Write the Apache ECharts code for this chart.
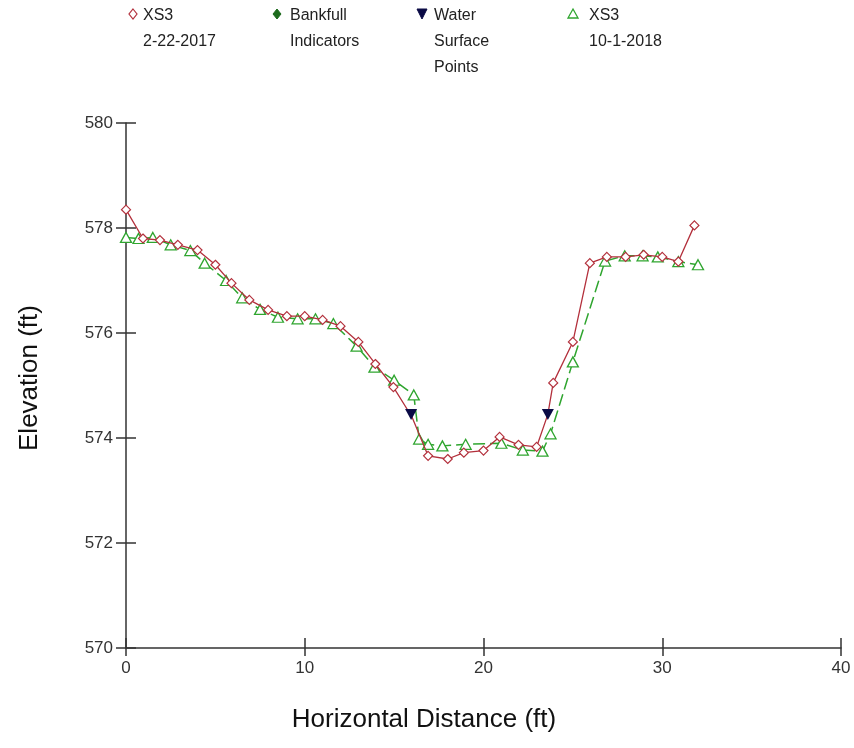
<!DOCTYPE html>
<html>
<head>
<meta charset="utf-8">
<title>XS3 cross section</title>
<script src="https://cdn.jsdelivr.net/npm/echarts@6/dist/echarts.min.js"></script>
<style>
  html, body { margin: 0; padding: 0; background: #fff; }
  #chart { width: 854px; height: 748px; }
</style>
</head>
<body>
<div id="chart"></div>
<script>
// XS3 2-22-2017 (station, elevation) ; the two water points are bends without a symbol
var xs2017X = [0, 0.95, 1.9, 2.9, 4.0, 5.0, 5.9, 6.9, 7.95, 9.0, 10.0, 11.0, 12.0, 13.0, 13.95, 14.96, 16.0, 16.9, 18.0, 18.9, 20.0, 20.9, 21.96, 22.97, 23.6, 23.9, 25.0, 25.95, 26.9, 27.95, 28.96, 30.0, 30.9, 31.8];
var xs2017Y = [578.35, 577.8, 577.77, 577.68, 577.58, 577.3, 576.95, 576.63, 576.44, 576.32, 576.32, 576.25, 576.13, 575.83, 575.41, 574.97, 574.4, 573.66, 573.6, 573.72, 573.76, 574.02, 573.87, 573.83, 574.45, 575.05, 575.83, 577.33, 577.45, 577.45, 577.49, 577.45, 577.36, 578.05];
var xs2017Hidden = [16.0, 23.6];

// XS3 10-1-2018
var xs2018X = [0, 0.7, 1.5, 2.5, 3.6, 4.4, 5.6, 6.5, 7.5, 8.5, 9.6, 10.6, 11.6, 12.9, 13.9, 15.0, 16.1, 16.4, 16.9, 17.7, 19.0, 21.0, 22.2, 23.3, 23.75, 25.0, 26.8, 27.9, 28.9, 29.75, 30.9, 32.0];
var xs2018Y = [577.82, 577.8, 577.82, 577.68, 577.57, 577.33, 577.0, 576.67, 576.45, 576.3, 576.27, 576.27, 576.18, 575.75, 575.35, 575.1, 574.82, 573.98, 573.88, 573.85, 573.88, 573.9, 573.77, 573.75, 574.08, 575.45, 577.37, 577.47, 577.47, 577.45, 577.36, 577.3];

// water surface points
var wsX = [15.95, 23.6];
var wsY = [574.45, 574.45];

// bankfull indicators (none plotted)
var bankX = [];
var bankY = [];

var xTicks = [0, 10, 20, 30, 40];
var yTicks = [570, 572, 574, 576, 578, 580];

var RED = '#b3303c';
var GREEN = '#2fa52f';
var NAVY = '#0a0a45';
var DKGREEN = '#1d6b1d';
var DIAMOND = 'path://M0,-1L1,0L0,1L-1,0Z';

function pairs(xs, ys) {
  var out = [];
  for (var i = 0; i < xs.length; i++) out.push([xs[i], ys[i]]);
  return out;
}

var redData = pairs(xs2017X, xs2017Y).map(function (p) {
  if (xs2017Hidden.indexOf(p[0]) >= 0) return { value: p, symbol: 'none' };
  return p;
});

var chart = echarts.init(document.getElementById('chart'));
var font = 'Liberation Sans, Arial, sans-serif';

var axisCommonX = {
  type: 'value',
  min: xTicks[0], max: xTicks[xTicks.length - 1], interval: 10,
  splitLine: { show: false }
};
var axisCommonY = {
  type: 'value',
  min: yTicks[0], max: yTicks[yTicks.length - 1], interval: 2,
  splitLine: { show: false }
};

var option = {
  backgroundColor: '#fff',
  animation: false,
  grid: { left: 126, right: 13, top: 123, bottom: 100 },
  xAxis: [
    Object.assign({}, axisCommonX, {
      position: 'bottom',
      axisLine: { show: true, lineStyle: { color: '#333', width: 1.5 } },
      axisTick: { show: true, inside: false, length: 8, lineStyle: { color: '#333', width: 1.5 } },
      axisLabel: { margin: 12, fontSize: 17, color: '#333', fontFamily: font }
    }),
    Object.assign({}, axisCommonX, {
      position: 'bottom',
      axisLine: { show: false },
      axisTick: { show: true, inside: true, length: 10, lineStyle: { color: '#333', width: 1.5 } },
      axisLabel: { show: false }
    })
  ],
  yAxis: [
    Object.assign({}, axisCommonY, {
      position: 'left',
      axisLine: { show: true, lineStyle: { color: '#333', width: 1.5 } },
      axisTick: { show: true, inside: false, length: 10, lineStyle: { color: '#333', width: 1.5 } },
      axisLabel: { margin: 13, fontSize: 17, color: '#333', fontFamily: font }
    }),
    Object.assign({}, axisCommonY, {
      position: 'left',
      axisLine: { show: false },
      axisTick: { show: true, inside: true, length: 10, lineStyle: { color: '#333', width: 1.5 } },
      axisLabel: { show: false }
    })
  ],
  series: [
    {
      name: 'XS3 10-1-2018',
      type: 'line',
      data: pairs(xs2018X, xs2018Y),
      symbol: 'triangle',
      symbolSize: [11, 10],
      showAllSymbol: true,
      lineStyle: { color: GREEN, width: 1.5, type: [12, 5] },
      itemStyle: { color: '#fff', borderColor: GREEN, borderWidth: 1.3 },
      z: 2
    },
    {
      name: 'XS3 2-22-2017',
      type: 'line',
      data: redData,
      symbol: DIAMOND,
      symbolSize: [9, 9],
      showAllSymbol: true,
      lineStyle: { color: RED, width: 1.3 },
      itemStyle: { color: '#fff', borderColor: RED, borderWidth: 1.2 },
      z: 3
    },
    {
      name: 'Bankfull Indicators',
      type: 'scatter',
      data: pairs(bankX, bankY),
      symbol: DIAMOND,
      symbolSize: 9,
      itemStyle: { color: DKGREEN, opacity: 1 },
      z: 4
    },
    {
      name: 'Water Surface Points',
      type: 'scatter',
      data: pairs(wsX, wsY),
      symbol: 'triangle',
      symbolRotate: 180,
      symbolSize: [12, 11],
      itemStyle: { color: NAVY, opacity: 1 },
      z: 5
    }
  ],
  graphic: [
    // legend
    { type: 'polygon', shape: { points: [[133, 9], [137, 14], [133, 19], [129, 14]] }, style: { fill: '#fff', stroke: RED, lineWidth: 1.2 } },
    { type: 'text', left: 143, top: 3, style: { text: 'XS3\n2-22-2017', font: '16px ' + font, lineHeight: 26, fill: '#222' } },
    { type: 'polygon', shape: { points: [[277, 9], [281, 14], [277, 19], [273, 14]] }, style: { fill: DKGREEN, stroke: DKGREEN, lineWidth: 1 } },
    { type: 'text', left: 290, top: 3, style: { text: 'Bankfull\nIndicators', font: '16px ' + font, lineHeight: 26, fill: '#222' } },
    { type: 'polygon', shape: { points: [[417, 9], [427, 9], [422, 19]] }, style: { fill: NAVY, stroke: NAVY, lineWidth: 1 } },
    { type: 'text', left: 434, top: 3, style: { text: 'Water\nSurface\nPoints', font: '16px ' + font, lineHeight: 26, fill: '#222' } },
    { type: 'polygon', shape: { points: [[573, 9], [578, 18], [568, 18]] }, style: { fill: '#fff', stroke: GREEN, lineWidth: 1.3 } },
    { type: 'text', left: 589, top: 3, style: { text: 'XS3\n10-1-2018', font: '16px ' + font, lineHeight: 26, fill: '#222' } },
    // axis titles
    { type: 'text', x: 424, y: 720, style: { text: 'Horizontal Distance (ft)', font: '26px ' + font, fill: '#111', textAlign: 'center', textVerticalAlign: 'middle' } },
    { type: 'text', x: 30, y: 378, rotation: Math.PI / 2, style: { text: 'Elevation (ft)', font: '26px ' + font, fill: '#111', textAlign: 'center', textVerticalAlign: 'middle' } }
  ]
};

chart.setOption(option);
</script>
</body>
</html>
